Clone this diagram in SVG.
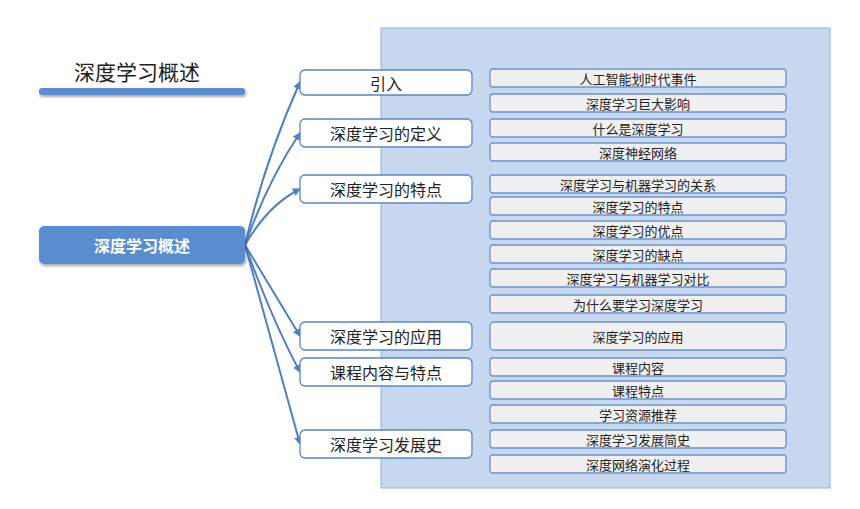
<svg xmlns="http://www.w3.org/2000/svg" width="860" height="509" viewBox="0 0 860 509">
<style>
text{font-family:"Noto Sans CJK SC","Liberation Sans",sans-serif;text-anchor:middle;dominant-baseline:central;fill:#222}
.mid rect{fill:#fff;stroke:#5a86c5;stroke-width:1.3}
.mid text{font-size:16px}
.leaf rect{fill:#f0f0f0;stroke:#6f93c8;stroke-width:1.3}
.leaf text{font-size:13px}
.c path{fill:none;stroke:#4f7fc0;stroke-width:2;marker-end:url(#a)}
</style>
<defs>
<marker id="a" markerWidth="8" markerHeight="8" refX="7" refY="4" orient="auto" markerUnits="userSpaceOnUse"><path d="M0,0L8,4L0,8z" fill="#4f7fc0"/></marker>
<filter id="s" x="-10%" y="-20%" width="120%" height="160%"><feDropShadow dx="1" dy="2" stdDeviation="1.5" flood-opacity="0.35"/></filter>
</defs>
<rect x="381" y="28" width="449" height="460" fill="#c5d8ef" stroke="#8fb0dc" stroke-width="1"/>
<g id="title"><text x="137" y="71" style="font-size:21px">深度学习概述</text><rect x="39" y="88" width="206" height="7" rx="3" fill="#5a8dd0" filter="url(#s)"/></g>
<g class="c">
<path d="M245,245 Q265,160 300,82"/>
<path d="M245,245 Q268,180 300,133"/>
<path d="M245,245 Q268,205 300,189"/>
<path d="M245,245 Q275,295 300,336"/>
<path d="M245,245 Q272,320 300,372"/>
<path d="M245,245 Q275,355 300,444"/>
</g>
<g id="root"><rect x="39" y="226" width="206" height="38" rx="5" fill="#5a8dd0" filter="url(#s)"/><text x="142" y="245" style="font-size:16px;fill:#fff;font-weight:bold">深度学习概述</text></g>
<g id="m1" class="mid"><rect x="300" y="70" width="172" height="25" rx="5"/><text x="386" y="82.5">引入</text></g>
<g id="m2" class="mid"><rect x="300" y="119" width="172" height="28" rx="5"/><text x="386" y="133">深度学习的定义</text></g>
<g id="m3" class="mid"><rect x="300" y="175" width="172" height="28" rx="5"/><text x="386" y="189">深度学习的特点</text></g>
<g id="m4" class="mid"><rect x="300" y="322" width="172" height="28" rx="5"/><text x="386" y="336">深度学习的应用</text></g>
<g id="m5" class="mid"><rect x="300" y="358" width="172" height="28" rx="5"/><text x="386" y="372">课程内容与特点</text></g>
<g id="m6" class="mid"><rect x="300" y="430" width="172" height="28" rx="5"/><text x="386" y="444">深度学习发展史</text></g>
<g id="l1" class="leaf"><rect x="490" y="69" width="296" height="18" rx="3"/><text x="638" y="78">人工智能划时代事件</text></g>
<g id="l2" class="leaf"><rect x="490" y="94" width="296" height="18" rx="3"/><text x="638" y="103">深度学习巨大影响</text></g>
<g id="l3" class="leaf"><rect x="490" y="119" width="296" height="18" rx="3"/><text x="638" y="128">什么是深度学习</text></g>
<g id="l4" class="leaf"><rect x="490" y="143" width="296" height="18" rx="3"/><text x="638" y="152">深度神经网络</text></g>
<g id="l5" class="leaf"><rect x="490" y="175" width="296" height="18" rx="3"/><text x="638" y="184">深度学习与机器学习的关系</text></g>
<g id="l6" class="leaf"><rect x="490" y="197" width="296" height="18" rx="3"/><text x="638" y="206">深度学习的特点</text></g>
<g id="l7" class="leaf"><rect x="490" y="221" width="296" height="18" rx="3"/><text x="638" y="230">深度学习的优点</text></g>
<g id="l8" class="leaf"><rect x="490" y="245" width="296" height="18" rx="3"/><text x="638" y="254">深度学习的缺点</text></g>
<g id="l9" class="leaf"><rect x="490" y="269" width="296" height="18" rx="3"/><text x="638" y="278">深度学习与机器学习对比</text></g>
<g id="l10" class="leaf"><rect x="490" y="295" width="296" height="18" rx="3"/><text x="638" y="304">为什么要学习深度学习</text></g>
<g id="l11" class="leaf"><rect x="490" y="322" width="296" height="28" rx="4"/><text x="638" y="336">深度学习的应用</text></g>
<g id="l12" class="leaf"><rect x="490" y="358" width="296" height="18" rx="3"/><text x="638" y="367">课程内容</text></g>
<g id="l13" class="leaf"><rect x="490" y="381" width="296" height="18" rx="3"/><text x="638" y="390">课程特点</text></g>
<g id="l14" class="leaf"><rect x="490" y="405" width="296" height="18" rx="3"/><text x="638" y="414">学习资源推荐</text></g>
<g id="l15" class="leaf"><rect x="490" y="430" width="296" height="18" rx="3"/><text x="638" y="439">深度学习发展简史</text></g>
<g id="l16" class="leaf"><rect x="490" y="455" width="296" height="18" rx="3"/><text x="638" y="464">深度网络演化过程</text></g>
</svg>
